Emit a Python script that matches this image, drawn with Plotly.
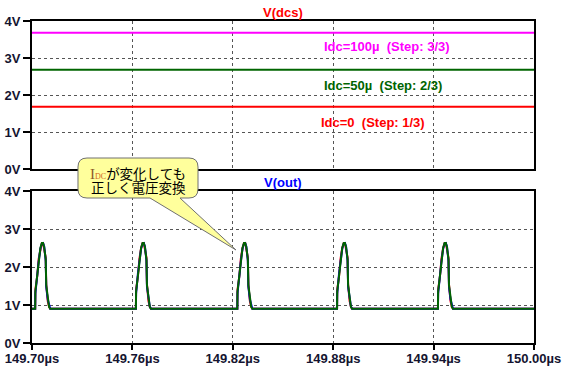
import plotly.graph_objects as go

# ---------------- data ----------------
t_start, t_end = 149.70, 150.00
x_tickvals = [149.70, 149.76, 149.82, 149.88, 149.94, 150.00]
x_ticktext = ["149.70µs", "149.76µs", "149.82µs", "149.88µs", "149.94µs", "150.00µs"]
y_tickvals = [0, 1, 2, 3, 4]
y_ticktext = ["0V", "1V", "2V", "3V", "4V"]

# V(dcs) levels for each step
dcs_levels = [1.68, 2.68, 3.68]
dcs_labels = ["Idc=0\u00a0\u00a0(Step: 1/3)", "Idc=50µ\u00a0\u00a0(Step: 2/3)", "Idc=100µ\u00a0\u00a0(Step: 3/3)"]
step_colors = ["#FF0000", "#006400", "#FF00FF"]

# V(out) pulses: peak times (µs) and pulse shape
peak_times = [149.7064, 149.7666, 149.8272, 149.8868, 149.9471]
pulse_offsets = [-0.0045, -0.0044, -0.0033, -0.0024, -0.0014, -0.0005, 0.0002, 0.0009, 0.0018, 0.0021, 0.0030, 0.0038, 0.0045]
pulse_v_step1 = [0.90, 1.40, 1.75, 2.22, 2.50, 2.63, 2.63, 2.50, 2.25, 1.55, 1.10, 0.95, 0.90]
pulse_v_step2 = [0.90, 1.35, 1.79, 2.18, 2.50, 2.63, 2.63, 2.52, 2.20, 1.52, 1.13, 0.95, 0.90]
pulse_v_step3 = [0.90, 1.30, 1.83, 2.15, 2.48, 2.62, 2.63, 2.54, 2.16, 1.48, 1.15, 0.96, 0.90]
baseline_v = 0.90


def build_wave(shape_v):
    ts, vs = [t_start], [baseline_v]
    for p in peak_times:
        for o, v in zip(pulse_offsets, shape_v):
            ts.append(p + o)
            vs.append(v)
    ts.append(t_end)
    vs.append(baseline_v)
    return ts, vs


# ---------------- figure ----------------
W, H = 562, 375
L, R, T, B = 32, 28, 21, 32
PW, PH = W - L - R, H - T - B

def px(x):
    return (x - L) / PW

def py(y):
    return (H - B - y) / PH

top_dom = [py(169), 1.0]
bot_dom = [0.0, py(191)]

fig = go.Figure()

for lvl, col in zip(dcs_levels, step_colors):
    fig.add_trace(go.Scatter(x=[t_start, t_end], y=[lvl, lvl], mode="lines",
                             line=dict(color=col, width=2), xaxis="x", yaxis="y",
                             showlegend=False, hoverinfo="skip"))

for shape_v, col in zip([pulse_v_step1, pulse_v_step3, pulse_v_step2],
                        ["#FF0000", "#0000FF", "#006400"]):
    ts, vs = build_wave(shape_v)
    fig.add_trace(go.Scatter(x=ts, y=vs, mode="lines",
                             line=dict(color=col, width=2), xaxis="x2", yaxis="y2",
                             showlegend=False, hoverinfo="skip"))

tickfont = dict(family="Liberation Sans", size=13, color="#141430", weight="bold")
grid = dict(showgrid=True, gridcolor="#555555", gridwidth=1, griddash="3px,3px")
line = dict(showline=True, linecolor="black", linewidth=2, mirror=True, zeroline=False,
            automargin=False)

fig.update_layout(
    width=W, height=H,
    margin=dict(l=L, r=R, t=T, b=B),
    paper_bgcolor="white", plot_bgcolor="white",
    showlegend=False,
    xaxis=dict(domain=[0, 1], range=[t_start, t_end], tickvals=x_tickvals,
               showticklabels=False, ticks="", anchor="y", **grid, **line),
    yaxis=dict(domain=top_dom, range=[0, 4], tickvals=y_tickvals, ticktext=y_ticktext,
               ticks="outside", ticklen=7, tickwidth=2, tickcolor="black",
               tickfont=tickfont, anchor="x", **grid, **line),
    xaxis2=dict(domain=[0, 1], range=[t_start, t_end], tickvals=x_tickvals, ticktext=x_ticktext,
                ticks="outside", ticklen=5, tickwidth=2, tickcolor="black",
                ticklabelstandoff=-3,
                tickfont=tickfont, anchor="y2", **grid, **line),
    yaxis2=dict(domain=bot_dom, range=[0, 4], tickvals=y_tickvals, ticktext=y_ticktext,
                ticks="outside", ticklen=7, tickwidth=2, tickcolor="black",
                tickfont=tickfont, anchor="x2", **grid, **line),
)

lblfont = dict(family="Liberation Sans", size=13, weight="bold")
# Step labels
label_pos = [(149.904, 1.27), (149.910, 2.27), (149.912, 3.32)]
for (lx, ly), txt, col in zip(label_pos, dcs_labels, step_colors):
    fig.add_annotation(x=lx, y=ly, xref="x", yref="y", text=txt, showarrow=False,
                       font=dict(color=col, **lblfont), xanchor="center", yanchor="middle")

# trace titles
fig.add_annotation(x=0.5, y=py(12), xref="paper", yref="paper", text="V(dcs)", showarrow=False,
                   font=dict(color="#FF0000", **lblfont), xanchor="center", yanchor="middle")
fig.add_annotation(x=0.5, y=py(182), xref="paper", yref="paper", text="V(out)", showarrow=False,
                   font=dict(color="#0000FF", **lblfont), xanchor="center", yanchor="middle")

# callout bubble
x0, x1, y0, y1, r = 78, 198, 158, 198, 9
pts = [
    ("M", (x0 + r, y0)), ("L", (x1 - r, y0)), ("Q", (x1, y0), (x1, y0 + r)),
    ("L", (x1, y1 - r)), ("Q", (x1, y1), (x1 - r, y1)),
    ("L", (180, y1)), ("L", (236, 250)), ("L", (150, y1)),
    ("L", (x0 + r, y1)), ("Q", (x0, y1), (x0, y1 - r)),
    ("L", (x0, y0 + r)), ("Q", (x0, y0), (x0 + r, y0)),
]
path = ""
for item in pts:
    cmd = item[0]
    coords = " ".join(f"{px(a):.5f},{py(b):.5f}" for a, b in item[1:])
    path += f"{cmd} {coords} "
path += "Z"
fig.add_shape(type="path", path=path, xref="paper", yref="paper",
              fillcolor="#FFFF9C", line=dict(color="#707070", width=1), layer="above")

cjk = dict(family="Noto Sans CJK JP", size=13.5, color="black")
fig.add_annotation(x=px(138), y=py(173), xref="paper", yref="paper", showarrow=False,
                   text="<span style='font-family:Liberation Serif;color:#8B5A2B;font-size:15px'>I</span>"
                        "<span style='color:#D2691E;font-size:8px;font-family:Liberation Serif'>DC</span>が変化しても",
                   font=cjk, xanchor="center", yanchor="middle")
fig.add_annotation(x=px(138), y=py(187), xref="paper", yref="paper", showarrow=False,
                   text="正しく電圧変換", font=cjk, xanchor="center", yanchor="middle")

fig.write_html("out.html")
